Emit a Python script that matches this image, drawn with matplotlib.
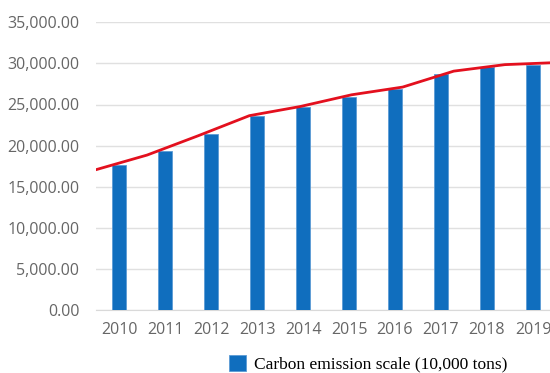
import matplotlib
matplotlib.use("Agg")
import matplotlib.pyplot as plt
from matplotlib.ticker import FuncFormatter

years = ["2010", "2011", "2012", "2013", "2014", "2015", "2016", "2017", "2018", "2019"]
emission = [17600, 19300, 21360, 23600, 24650, 25970, 26900, 28650, 29600, 29820]
trend = [17070, 18850, 21200, 23640, 24760, 26180, 27120, 29060, 29850, 30100]
legend_label = "Carbon emission scale (10,000 tons)"

fig = plt.figure(figsize=(5.5, 3.73), dpi=100)
ax = fig.add_axes([96/550, 63/373, 460/550, 287.7/373])

x = list(range(len(years)))
bars = ax.bar(x, emission, width=0.315, color="#106EBE", edgecolor="#5B9BD5",
              linewidth=0.6, zorder=3, label=legend_label)
ax.set_xlim(-0.5, len(years) - 0.5)
ax.set_ylim(0, 35000)
ax.set_yticks(range(0, 35001, 5000))
ax.yaxis.set_major_formatter(FuncFormatter(lambda v, p: f"{v:,.2f}"))
ax.set_xticks(x)
ax.set_xticklabels(years)
ax.grid(axis="y", color="#E0E0E0", linewidth=1.0, zorder=0)
for s in ["top", "right", "left"]:
    ax.spines[s].set_visible(False)
ax.spines["bottom"].set_color("#D9D9D9")
ax.tick_params(axis="both", length=0, colors="#666666", labelsize=11.5)
ax.tick_params(axis="y", pad=12)
ax.tick_params(axis="x", pad=9)
for lab in ax.get_xticklabels() + ax.get_yticklabels():
    lab.set_family("Open Sans")

ax2 = ax.twiny()
ax2.set_xlim(0, len(trend) - 1)
ax2.plot(range(len(trend)), trend, color="#E3101E", linewidth=2.0, zorder=4,
         solid_joinstyle="round")
ax2.set_xticks([])
for s in ax2.spines.values():
    s.set_visible(False)

fig.legend(handles=[bars], labels=[legend_label], loc="center",
           bbox_to_anchor=(368/550, 1 - 364/373), frameon=False,
           prop={"family": "Liberation Serif", "size": 12.5},
           handlelength=1.0, handleheight=1.0, handletextpad=0.45)

fig.savefig("out.png", dpi=100)
